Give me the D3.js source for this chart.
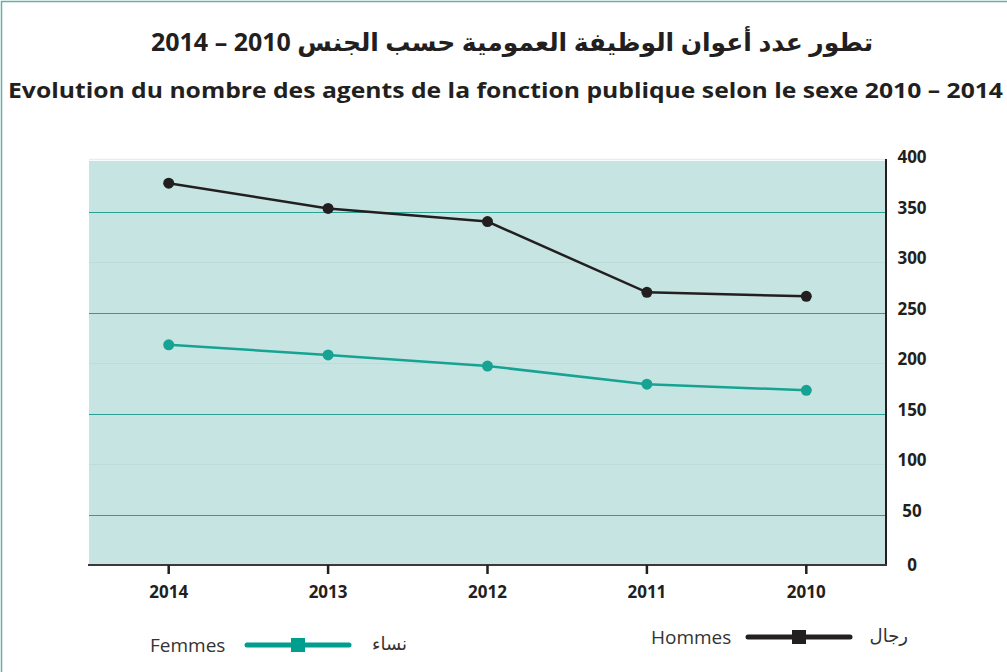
<!DOCTYPE html>
<html>
<head>
<meta charset="utf-8">
<script src="https://cdn.jsdelivr.net/npm/d3@7"></script>
<style>
body { margin:0; background:#fff; }
text { font-family: "Open Sans", "DejaVu Sans", sans-serif; fill:#231f20; }
</style>
</head>
<body>
<div class="chart"></div>
<script>
// DATA
const years = ['2014', '2013', '2012', '2011', '2010'];
const hommes = [378, 353, 340, 270, 266];
const femmes = [218, 208, 197, 179, 173];
const yTicks = [0, 50, 100, 150, 200, 250, 300, 350, 400];

const W = 1007, H = 672;
const plot = {left: 89, right: 886, top: 161, bottom: 565};

const svg = d3.select('.chart').append('svg')
    .attr('width', W)
    .attr('height', H);

// frame
svg.append('rect')
    .attr('x', 1.5).attr('y', 1.5)
    .attr('width', W + 5).attr('height', H + 5)
    .attr('fill', 'none')
    .attr('stroke', '#5fb3a8')
    .attr('stroke-width', 1.5);

// titles
svg.append('text')
    .attr('x', 512).attr('y', 51)
    .attr('text-anchor', 'middle')
    .attr('direction', 'rtl')
    .style('font-family', '"Noto Sans", "DejaVu Sans", sans-serif')
    .style('font-weight', 'bold')
    .style('font-size', '25px')
    .text('تطور عدد أعوان الوظيفة العمومية حسب الجنس 2010 – 2014');

svg.append('text')
    .attr('x', 8).attr('y', 98)
    .attr('textLength', 995)
    .attr('lengthAdjust', 'spacingAndGlyphs')
    .style('font-weight', 'bold')
    .style('font-size', '22px')
    .text('Evolution du nombre des agents de la fonction publique selon le sexe 2010 – 2014');

const xScale = d3.scaleBand()
    .domain(years)
    .range([plot.left, plot.right]);

const yScale = d3.scaleLinear()
    .domain([0, 400])
    .range([plot.bottom, plot.top]);

const xPos = d => xScale(d) + xScale.bandwidth() / 2;

// background
svg.append('rect')
    .attr('x', plot.left).attr('y', plot.top)
    .attr('width', plot.right - plot.left)
    .attr('height', plot.bottom - plot.top)
    .attr('fill', '#c6e5e2');

svg.append('line')
    .attr('x1', plot.left).attr('x2', plot.right)
    .attr('y1', plot.top - 1.5).attr('y2', plot.top - 1.5)
    .attr('stroke', '#e3efee')
    .attr('stroke-width', 1.5);

// gridlines
svg.append('g').selectAll('line')
    .data(yTicks.filter(d => d > 0 && d < 400))
    .join('line')
    .attr('x1', plot.left).attr('x2', plot.right)
    .attr('y1', d => Math.round(yScale(d)) + 0.5).attr('y2', d => Math.round(yScale(d)) + 0.5)
    .attr('stroke', d => d % 100 === 50 ? '#2aa094' : '#bcdcd6')
    .attr('stroke-width', 1);

// y axis on the right
svg.append('line')
    .attr('x1', plot.right).attr('x2', plot.right)
    .attr('y1', plot.top - 2).attr('y2', plot.bottom)
    .attr('stroke', '#231f20')
    .attr('stroke-width', 2);

svg.append('g').selectAll('text')
    .data(yTicks)
    .join('text')
    .attr('x', 912)
    .attr('y', d => yScale(d) + (d === 0 ? 6 : 2))
    .attr('text-anchor', 'middle')
    .style('font-weight', 'bold')
    .style('font-size', '17px')
    .text(d => d);

// x axis
svg.append('line')
    .attr('x1', plot.left - 1).attr('x2', plot.right + 1)
    .attr('y1', plot.bottom).attr('y2', plot.bottom)
    .attr('stroke', '#3a3a3a')
    .attr('stroke-width', 2);

svg.append('g').selectAll('line')
    .data(years)
    .join('line')
    .attr('x1', d => xPos(d)).attr('x2', d => xPos(d))
    .attr('y1', plot.bottom).attr('y2', plot.bottom + 9)
    .attr('stroke', '#231f20')
    .attr('stroke-width', 2.5);

svg.append('g').selectAll('text')
    .data(years)
    .join('text')
    .attr('x', d => xPos(d))
    .attr('y', 598)
    .attr('text-anchor', 'middle')
    .style('font-weight', 'bold')
    .style('font-size', '17px')
    .text(d => d);

// lines
const series = [
    {name: 'hommes', values: hommes, color: '#231f20'},
    {name: 'femmes', values: femmes, color: '#16a394'}
];

const line = d3.line()
    .x((d, i) => xPos(years[i]))
    .y(d => yScale(d));

series.forEach(s => {
    svg.append('path')
        .datum(s.values)
        .attr('fill', 'none')
        .attr('stroke', s.color)
        .attr('stroke-width', 2.5)
        .attr('d', line);
    svg.append('g').selectAll('circle')
        .data(s.values)
        .join('circle')
        .attr('cx', (d, i) => xPos(years[i]))
        .attr('cy', d => yScale(d))
        .attr('r', 5.5)
        .attr('fill', s.color);
});

// legend
const legend = [
    {fr: 'Femmes', ar: 'نساء', color: '#009e8e', x: 150, y: 645},
    {fr: 'Hommes', ar: 'رجال', color: '#231f20', x: 651, y: 637}
];

legend.forEach(l => {
    svg.append('text')
        .attr('x', l.x).attr('y', l.y + 7)
        .style('font-size', '19px')
        .style('fill', '#333')
        .text(l.fr);
    svg.append('line')
        .attr('x1', l.x + 97).attr('x2', l.x + 199)
        .attr('y1', l.y).attr('y2', l.y)
        .attr('stroke', l.color)
        .attr('stroke-width', 5)
        .attr('stroke-linecap', 'round');
    svg.append('rect')
        .attr('x', l.x + 141).attr('y', l.y - 7)
        .attr('width', 14).attr('height', 14)
        .attr('fill', l.color);
    svg.append('text')
        .attr('x', l.x + 257).attr('y', l.y + 5)
        .attr('text-anchor', 'end')
        .style('font-family', '"Noto Sans", "DejaVu Sans", sans-serif')
        .style('font-size', '18px')
        .style('fill', '#333')
        .text(l.ar);
});
</script>
</body>
</html>
